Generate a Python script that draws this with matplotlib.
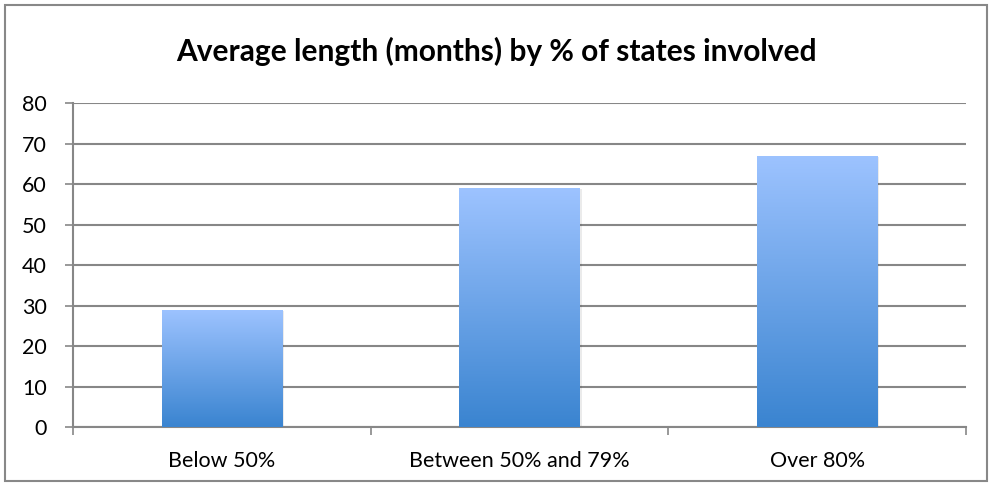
import numpy as np
import matplotlib
matplotlib.use('Agg')
import matplotlib.pyplot as plt
from matplotlib.colors import LinearSegmentedColormap
from matplotlib.patches import Rectangle

plt.rcParams['font.family'] = ['Lato', 'DejaVu Sans']

categories = ['Below 50%', 'Between 50% and 79%', 'Over 80%']
values = [29, 59, 67]
yticks = [0, 10, 20, 30, 40, 50, 60, 70, 80]

GRID = '#878787'
TOP_C = '#9dc3ff'
BOT_C = '#3a84d0'

fig = plt.figure(figsize=(9.92, 4.86), dpi=100, facecolor='white')
ax = fig.add_axes([73 / 992, 1 - 427 / 486, (966 - 73) / 992, (427 - 103) / 486])

# cadre gris autour de la figure
fig.patches.append(Rectangle((5 / 992, 5 / 486), 982 / 992, 476 / 486,
                             transform=fig.transFigure, fill=False,
                             edgecolor='#888888', lw=1.5))

x = np.arange(len(categories))
width = 0.405
cmap = LinearSegmentedColormap.from_list('bar', [BOT_C, TOP_C])
grad = np.linspace(0, 1, 256).reshape(-1, 1)

bars = ax.bar(x, values, width=width, color='none', edgecolor='none', zorder=3)
for b in bars:
    x0, y0 = b.get_x(), b.get_y()
    w, h = b.get_width(), b.get_height()
    # ombre légère
    ax.add_patch(Rectangle((x0 + 0.006, y0 - 0.35), w, h, facecolor='#000000',
                           alpha=0.08, edgecolor='none', zorder=2))
    im = ax.imshow(grad, cmap=cmap, aspect='auto', origin='lower',
                   extent=[x0, x0 + w, y0, y0 + h], zorder=3)
    im.set_clip_path(b)

ax.set_xlim(-0.5, len(categories) - 0.5)
ax.set_ylim(0, 80)
ax.set_yticks(yticks)
ax.set_yticklabels([str(v) for v in yticks], fontsize=15.5)
ax.yaxis.grid(True, color=GRID, lw=1.5, zorder=0)
ax.set_axisbelow(True)

ax.set_xticks(x)
ax.set_xticklabels(categories, fontsize=15.5)
ax.set_xticks(np.arange(-0.5, len(categories)), minor=True)
ax.tick_params(axis='x', which='major', length=0, pad=17)
ax.tick_params(axis='x', which='minor', length=6, width=1.2, color=GRID)
ax.tick_params(axis='y', length=6, width=1.2, color=GRID, pad=13)

for s in ['top', 'right']:
    ax.spines[s].set_visible(False)
for s in ['left', 'bottom']:
    ax.spines[s].set_color(GRID)
    ax.spines[s].set_linewidth(1.5)

fig.text(0.5, 1 - 51 / 486, 'Average length (months) by % of states involved',
         ha='center', va='center', fontsize=21.5, fontweight='bold')

fig.savefig('out.png', dpi=100, facecolor='white')
